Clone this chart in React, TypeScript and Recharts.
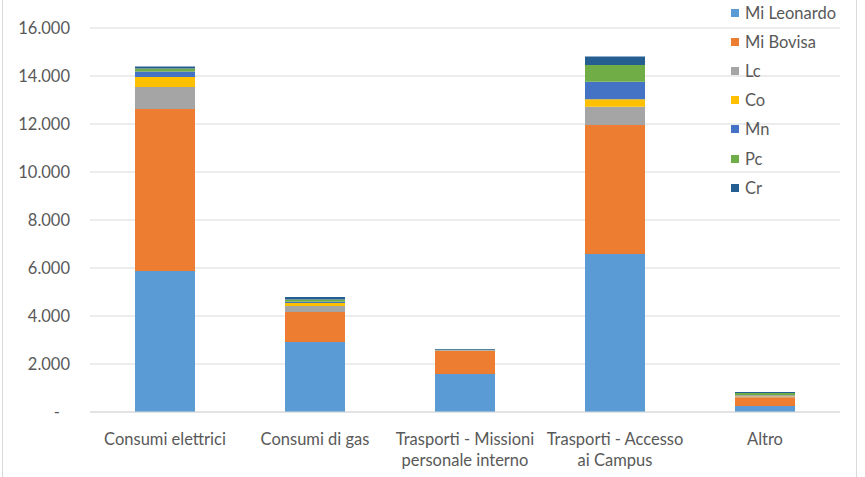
import React from "react";
import { BarChart, Bar, XAxis, YAxis, CartesianGrid, Legend } from "recharts";

const categories = [
  "Consumi elettrici",
  "Consumi di gas",
  "Trasporti - Missioni\npersonale interno",
  "Trasporti - Accesso\nai Campus",
  "Altro",
];
const seriesNames = ["Mi Leonardo", "Mi Bovisa", "Lc", "Co", "Mn", "Pc", "Cr"];
const miLeonardo = [5875, 2920, 1580, 6580, 250];
const miBovisa = [6750, 1250, 960, 5380, 360];
const lc = [917, 250, 20, 760, 50];
const co = [420, 120, 10, 310, 30];
const mn = [230, 50, 10, 730, 20];
const pc = [120, 100, 10, 700, 80];
const cr = [80, 100, 30, 350, 40];
const yTicks = [0, 2000, 4000, 6000, 8000, 10000, 12000, 14000, 16000];

const colors = ["#5B9BD5", "#ED7D31", "#A5A5A5", "#FFC000", "#4472C4", "#70AD47", "#255E91"];
const seriesValues = [miLeonardo, miBovisa, lc, co, mn, pc, cr];

const data = categories.map((c, i) => {
  const row: any = { category: c };
  seriesNames.forEach((n, j) => {
    row[n] = seriesValues[j][i];
  });
  return row;
});

const FONT = "Lato, 'Open Sans', sans-serif";
const TEXT = "#595959";
const FS = 16.5;

const fmt = (v: number) => {
  if (v === 0) return "-";
  const s = String(Math.round(v));
  return s.replace(/\B(?=(\d{3})+(?!\d))/g, ".");
};

const YTick = (props: any) => {
  const { x, y, payload } = props;
  const v = payload.value;
  return (
    <text
      x={v === 0 ? x - 10 : x}
      y={y}
      dy={5.5}
      textAnchor="end"
      fill={TEXT}
      fontSize={FS}
      fontFamily={FONT}
    >
      {fmt(v)}
    </text>
  );
};

const XTick = (props: any) => {
  const { x, payload } = props;
  const lines = String(payload.value).split("\n");
  return (
    <text x={x} y={412} textAnchor="middle" fill={TEXT} fontSize={FS} fontFamily={FONT}>
      {lines.map((l, i) => (
        <tspan key={i} x={x} dy={i === 0 ? 33 : 21}>
          {l}
        </tspan>
      ))}
    </text>
  );
};

const LegendContent = () => (
  <div style={{ fontFamily: FONT, fontSize: FS, color: TEXT }}>
    {seriesNames.map((n, i) => (
      <div key={n} style={{ height: 29.2, display: "flex", alignItems: "center" }}>
        <span
          style={{
            display: "inline-block",
            width: 8,
            height: 8,
            background: colors[i],
            marginRight: 6,
          }}
        />
        <span>{n}</span>
      </div>
    ))}
  </div>
);

export default function App() {
  return (
    <div
      style={{
        position: "absolute",
        left: 0,
        top: 0,
        width: 865,
        height: 477,
        background: "#fff",
      }}
    >
      <div
        style={{
          position: "absolute",
          left: 2,
          top: 0,
          width: 855,
          height: 477,
          borderLeft: "1px solid #D9D9D9",
          borderRight: "1px solid #D9D9D9",
          boxSizing: "border-box",
        }}
      />
      <BarChart
        width={865}
        height={477}
        data={data}
        margin={{ top: 28, right: 25, left: 0, bottom: 0 }}
        barSize={60}
      >
        <CartesianGrid vertical={false} stroke="#D9D9D9" />
        <XAxis
          dataKey="category"
          axisLine={{ stroke: "#D9D9D9" }}
          tickLine={false}
          interval={0}
          tick={<XTick />}
          height={65}
        />
        <YAxis
          domain={[0, 16000]}
          ticks={yTicks}
          axisLine={false}
          tickLine={false}
          width={90}
          tickMargin={14}
          tick={<YTick />}
          interval={0}
        />
        <Legend
          layout="vertical"
          align="center"
          verticalAlign="middle"
          content={<LegendContent />}
          wrapperStyle={{ left: 731, top: -2, width: 134 }}
        />
        {seriesNames.map((n, i) => (
          <Bar key={n} dataKey={n} stackId="a" fill={colors[i]} isAnimationActive={false} />
        ))}
      </BarChart>
    </div>
  );
}
